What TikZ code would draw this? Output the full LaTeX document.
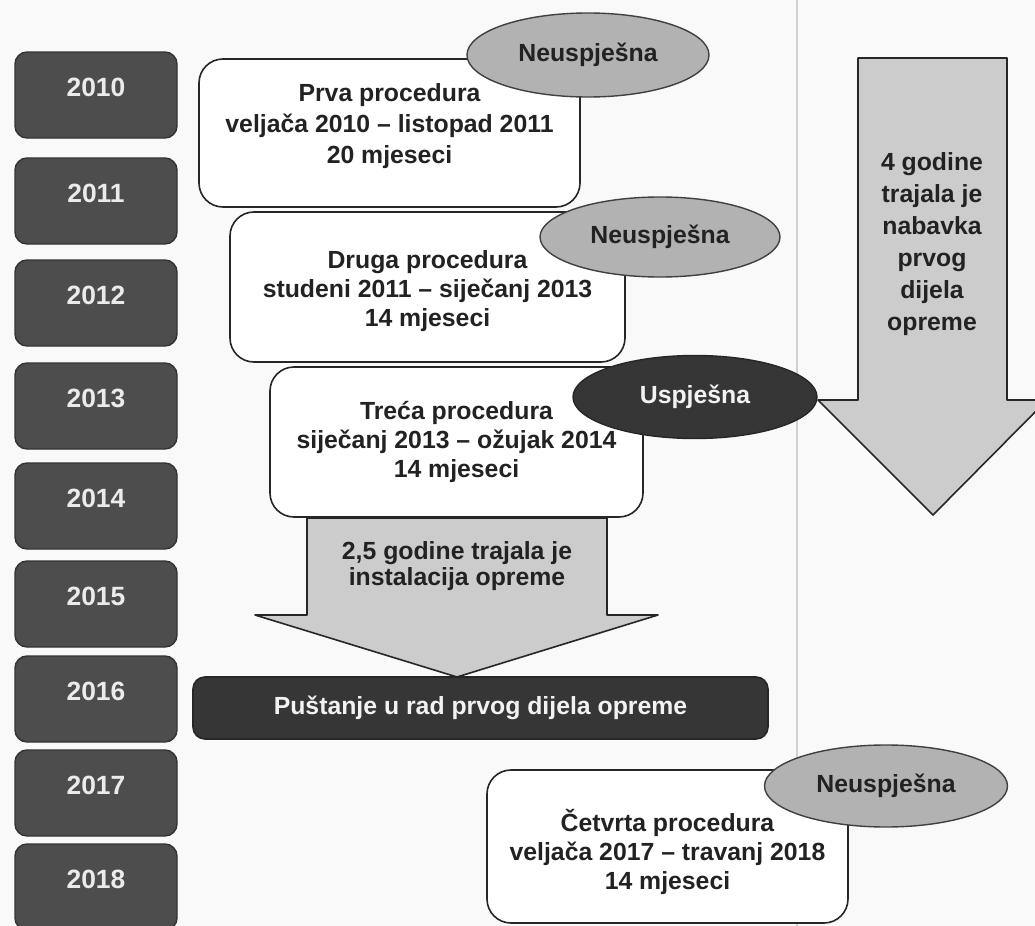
\documentclass[tikz,border=0pt]{standalone}
\usepackage{fontspec}
\setmainfont{Liberation Sans}
\usetikzlibrary{shapes.geometric}

\definecolor{paper}{HTML}{F9F9F9}
\definecolor{yeargray}{HTML}{4D4D4D}
\definecolor{failgray}{HTML}{B2B2B2}
\definecolor{okgray}{HTML}{363636}
\definecolor{arrowgray}{HTML}{CCCCCC}
\definecolor{inkdark}{HTML}{222222}

\begin{document}
\begin{tikzpicture}[
    x=0.5pt, y=-0.5pt,
    line join=round,
    font=\fontsize{12.4}{14.5}\selectfont\bfseries,
    text=inkdark,
    yearbox/.style={draw=black!80, line width=0.7pt, fill=yeargray,
        text=white!92!black, rounded corners=6pt,
        minimum width=81pt, minimum height=43pt, text depth=8pt,
        font=\fontsize{13.2}{15}\selectfont\bfseries},
    procbox/.style={draw=black!85, line width=0.8pt, fill=white,
        rounded corners=12pt, inner sep=0pt},
    proctext/.style={align=center, inner sep=0pt},
    failtag/.style={ellipse, draw=black!75, line width=0.7pt,
        fill=failgray, inner sep=0pt},
    oktag/.style={ellipse, draw=black!85, line width=0.7pt,
        fill=okgray, text=white!95!black, inner sep=0pt},
    arrowbody/.style={draw=black!85, line width=0.8pt, fill=arrowgray},
    milestone/.style={draw=black!85, line width=0.8pt, fill=okgray,
        text=white!95!black, rounded corners=6pt, inner sep=0pt,
        minimum width=287.5pt, minimum height=31pt}
]

% ======================================
% podloga
% ======================================
\useasboundingbox (0,0) rectangle (1035,926);
\clip (0,0) rectangle (1035,926);
\fill[paper] (0,0) rectangle (1035,926);
\draw[black!18, line width=0.6pt] (797,0) -- (797,926);

% ======================================
% godine
% ======================================
\foreach \yr/\yc in {2010/95, 2011/201, 2012/303, 2013/406, 2014/506,
                     2015/604, 2016/699, 2017/793, 2018/887}
    \node[yearbox] (y\yr) at (96,\yc) {\yr};

% ======================================
% instalacija opreme
% ======================================
\draw[arrowbody] (307,518) -- (607,518) -- (607,615) -- (658,615)
    -- (457,677) -- (255,615) -- (307,615) -- cycle;
\node[align=center, font=\fontsize{12.4}{13}\selectfont\bfseries] (inst) at (457,566)
    {2,5 godine trajala je\\instalacija opreme};

% ======================================
% procedure 1--3
% ======================================
\node[procbox, minimum width=190.5pt, minimum height=74pt] (p1) at (389.5,133) {};
\node[proctext, font=\fontsize{12.4}{15.6}\selectfont\bfseries] (p1txt) at (389.5,126)
    {Prva procedura\\veljača 2010 -- listopad 2011\\20 mjeseci};
\node[procbox, minimum width=197.5pt, minimum height=75pt] (p2) at (427.5,287) {};
\node[proctext] (p2txt) at (427.5,291)
    {Druga procedura\\studeni 2011 -- siječanj 2013\\14 mjeseci};
\node[procbox, minimum width=186.5pt, minimum height=75pt] (p3) at (456.5,442) {};
\node[proctext] (p3txt) at (456.5,442)
    {Treća procedura\\siječanj 2013 -- ožujak 2014\\14 mjeseci};

\node[failtag, minimum width=121pt, minimum height=42pt] (e1) at (588,55) {Neuspješna};
\node[failtag, minimum width=120pt, minimum height=40pt] (e2) at (660,237) {Neuspješna};

% ======================================
% nabavka
% ======================================
\draw[arrowbody] (858,58) -- (1007,58) -- (1007,400) -- (1047,400)
    -- (933,515) -- (818,400) -- (858,400) -- cycle;
\node[align=center, font=\fontsize{12.4}{16}\selectfont\bfseries] (nab) at (932,244)
    {4 godine\\trajala je\\nabavka\\prvog\\dijela\\opreme};

\node[oktag, minimum width=122pt, minimum height=41.5pt] (e3) at (695,397) {Uspješna};

% ======================================
% pustanje u rad
% ======================================
\node[milestone] (rad) at (480.5,708) {Puštanje u rad prvog dijela opreme};

% ======================================
% procedura 4
% ======================================
\node[procbox, minimum width=180.5pt, minimum height=76.5pt] (p4) at (667.5,846.5) {};
\node[proctext] (p4txt) at (667.5,852)
    {Četvrta procedura\\veljača 2017 -- travanj 2018\\14 mjeseci};
\node[failtag, minimum width=121.5pt, minimum height=41pt] (e4) at (886,786) {Neuspješna};

\end{tikzpicture}
\end{document}
